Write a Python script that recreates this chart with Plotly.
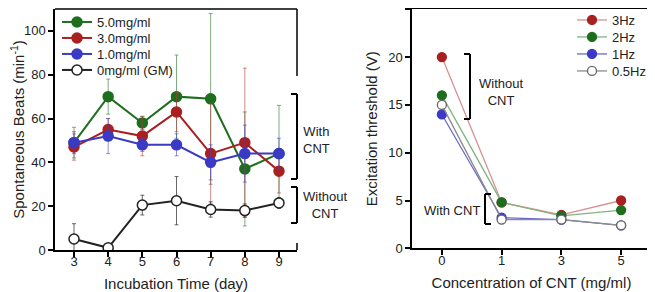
import plotly.graph_objects as go

# ---------- Left panel data ----------
days = [3, 4, 5, 6, 7, 8, 9]
beats_5mg = [49, 70, 58, 70, 69, 37, 44]
err_5mg = [7, 8, 3, 19, 39, 26, 22]
beats_3mg = [47, 55, 52, 63, 44, 49, 36]
err_3mg = [6, 5, 9, 9, 23, 34, 10]
beats_1mg = [49, 52, 48, 48, 40, 44, 44]
err_1mg = [5, 8, 3, 5, 8, 13, 7]
beats_0mg = [5, 1, 20.5, 22.5, 18.5, 18, 21.5]
err_0mg = [7, 0, 4.5, 11, 3.5, 3, 2.5]

# ---------- Right panel data ----------
conc_labels = ["0", "1", "3", "5"]
thr_3hz = [20, 4.8, 3.5, 5.0]
thr_2hz = [16, 4.8, 3.4, 4.0]
thr_1hz = [14, 3.2, 3.0, 2.4]
thr_05hz = [15, 3.0, 3.0, 2.4]

FONT = "Liberation Sans, Arial, Helvetica, sans-serif"
# the page body adds an 8px margin, so the figure fills the rest of the window
OFF = 8
W, H = 655 - OFF, 292 - OFF

def px(x):
    return (x - OFF) / W

def py(y):
    return 1 - (y - OFF) / H

GREEN = "#1d6e1d"
RED = "#a82020"
BLUE = "#3a3ac4"
BLACK = "#222222"

fig = go.Figure()

left_rows = [22, 38, 54, 70]
right_rows = [20, 37, 54, 71]

left_series = [
    ("5.0mg/ml", beats_5mg, err_5mg, GREEN, "rgba(60,130,60,0.65)", GREEN),
    ("3.0mg/ml", beats_3mg, err_3mg, RED, "rgba(180,60,60,0.6)", RED),
    ("1.0mg/ml", beats_1mg, err_1mg, BLUE, "rgba(70,70,200,0.6)", BLUE),
    ("0mg/ml (GM)", beats_0mg, err_0mg, BLACK, "rgba(40,40,40,0.7)", "white"),
]
legend_layout = {}
for i, (name, vals, errs, col, ecol, fill) in enumerate(left_series):
    lname = "legend" if i == 0 else f"legend{i + 1}"
    fig.add_trace(go.Scatter(
        x=days, y=vals, name=name, mode="lines+markers",
        line=dict(color=col, width=2),
        marker=dict(size=10, color=fill, line=dict(color=col, width=1.5)),
        error_y=dict(type="data", array=errs, visible=True, color=ecol, thickness=1, width=2),
        xaxis="x", yaxis="y", legend=lname,
    ))
    legend_layout[lname] = dict(x=px(57), y=py(left_rows[i]), xanchor="left", yanchor="middle",
                                bgcolor="rgba(0,0,0,0)", font=dict(size=13), itemwidth=30)

right_series = [
    ("3Hz", thr_3hz, "#d99090", RED, RED),
    ("2Hz", thr_2hz, "#80b480", GREEN, GREEN),
    ("1Hz", thr_1hz, "#6a6ac8", BLUE, BLUE),
    ("0.5Hz", thr_05hz, "#8a8a8a", "#666666", "white"),
]
for i, (name, vals, lcol, mcol, fill) in enumerate(right_series):
    lname = f"legend{i + 5}"
    fig.add_trace(go.Scatter(
        x=list(range(len(conc_labels))), y=vals, name=name, mode="lines+markers",
        line=dict(color=lcol, width=1.3),
        marker=dict(size=9, color=fill, line=dict(color=mcol, width=1.3)),
        xaxis="x2", yaxis="y2", legend=lname,
    ))
    legend_layout[lname] = dict(x=px(572), y=py(right_rows[i]), xanchor="left", yanchor="middle",
                                bgcolor="rgba(0,0,0,0)", font=dict(size=13), itemwidth=30)

axis_common = dict(
    showline=True, linecolor="black", linewidth=1.5, ticks="outside",
    ticklen=5, tickwidth=1.5, tickcolor="black", showgrid=False, zeroline=False,
    automargin=False,
    tickfont=dict(family=FONT, size=13, color="#222"),
)

fig.update_layout(
    width=W, height=H, margin=dict(l=0, r=0, t=0, b=0, autoexpand=False),
    paper_bgcolor="white", plot_bgcolor="white",
    font=dict(family=FONT, color="#222"),
    xaxis=dict(domain=[px(55), px(297)], range=[2.444, 9.527], tickvals=days,
               ticklabelstandoff=-6,
               title=dict(text="Incubation Time (day)", font=dict(size=15), standoff=11),
               anchor="y", **axis_common),
    yaxis=dict(domain=[py(250), py(9)], range=[0, 110], tickvals=[0, 20, 40, 60, 80, 100],
               title=dict(text="Spontaneous Beats (min<sup>-1</sup>)", font=dict(size=15), standoff=7),
               anchor="x", **axis_common),
    xaxis2=dict(domain=[px(412), px(651)], range=[-0.5, 3.5], tickvals=[0, 1, 2, 3],
                ticktext=conc_labels, mirror=True, ticklabelstandoff=-6,
                title=dict(text="Concentration of CNT (mg/ml)", font=dict(size=15), standoff=11),
                anchor="y2", **axis_common),
    yaxis2=dict(domain=[py(248.3), py(9.3)], range=[0, 25], tickvals=[0, 5, 10, 15, 20, 25],
                mirror=True,
                title=dict(text="Excitation threshold (V)", font=dict(size=15), standoff=7),
                anchor="x2", **axis_common),
    showlegend=True,
    **legend_layout,
)

# Left panel frame pieces and brackets
shapes = []
def seg(x0, y0, x1, y1, w=1.5):
    shapes.append(dict(type="line", xref="paper", yref="paper",
                       x0=px(x0), y0=py(y0), x1=px(x1), y1=py(y1),
                       line=dict(color="black", width=w)))

seg(55, 9, 297, 9)
seg(297, 9, 297, 76)
# With CNT bracket (left panel)
seg(297, 94, 297, 179, 2)
seg(291, 94, 297, 94, 2)
seg(291, 179, 297, 179, 2)
# Without CNT bracket (left panel)
seg(297, 187, 297, 223, 2)
seg(291, 187, 297, 187, 2)
seg(291, 223, 297, 223, 2)
seg(297, 243, 297, 250)
# Right panel brackets
seg(470, 54, 470, 119, 2)
seg(464, 54, 470, 54, 2)
seg(464, 119, 470, 119, 2)
seg(485, 194, 485, 224, 2)
seg(485, 194, 491, 194, 2)
seg(485, 224, 491, 224, 2)
fig.update_layout(shapes=shapes)

ann_font = dict(family=FONT, size=13, color="#222")
annotations = [
    dict(text="With<br>CNT", x=px(301), y=py(140), xanchor="left", yanchor="middle"),
    dict(text="Without<br>CNT", x=px(301), y=py(205), xanchor="left", yanchor="middle"),
    dict(text="Without<br>CNT", x=px(501), y=py(92), xanchor="center", yanchor="middle"),
    dict(text="With CNT", x=px(482), y=py(210), xanchor="right", yanchor="middle"),
]
for a in annotations:
    a.update(xref="paper", yref="paper", showarrow=False, font=ann_font, align="center")
fig.update_layout(annotations=annotations)

fig.write_html("out.html")
